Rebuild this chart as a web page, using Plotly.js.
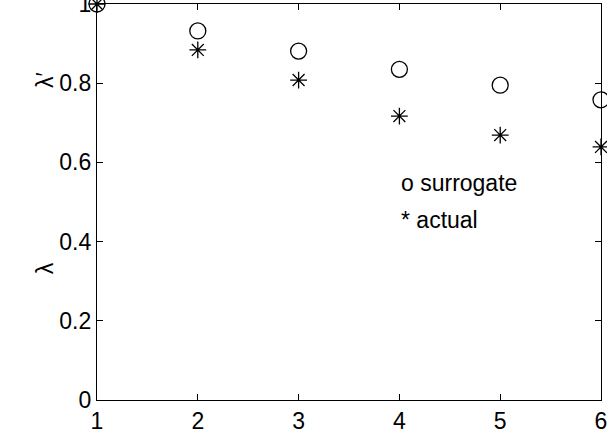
<!DOCTYPE html>
<html>
<head>
<meta charset="utf-8">
<script src="https://cdn.plot.ly/plotly-3.0.1.min.js"></script>
<style>html,body{margin:0;padding:0;background:#fff;}#chart{width:607px;height:438px;}</style>
</head>
<body>
<div id="chart"></div>
<script>
const xValues = [1, 2, 3, 4, 5, 6];
const surrogate = [1.0, 0.932, 0.881, 0.835, 0.795, 0.758];
const actual = [1.0, 0.884, 0.808, 0.717, 0.669, 0.639];
const xTicks = [1, 2, 3, 4, 5, 6];
const yTicks = [0, 0.2, 0.4, 0.6, 0.8, 1];
const yTickLabels = ['0', '0.2', '0.4', '0.6', '0.8', '1'];
const legendTexts = ['o surrogate', '* actual'];
const axisLabels = ['\u03bb\u2032', '\u03bb'];

const font = {family: 'Liberation Sans, Arial, sans-serif', size: 23, color: '#000'};

const traces = [
  {x: xValues, y: surrogate, mode: 'markers', type: 'scatter', cliponaxis: false,
   marker: {symbol: 'circle-open', size: 16, color: '#000', line: {width: 1.3, color: '#000'}}},
  {x: xValues, y: actual, mode: 'markers', type: 'scatter', cliponaxis: false,
   marker: {symbol: 'asterisk-open', size: 14, color: '#000', line: {width: 1.3, color: '#000'}}}
];

const axisCommon = {
  showgrid: false, zeroline: false, showline: true, linecolor: '#000', linewidth: 1.2,
  mirror: 'ticks', ticks: 'inside', ticklen: 6, tickwidth: 1, tickcolor: '#000',
  tickfont: font, ticklabeloverflow: 'allow'
};

const layout = {
  width: 607, height: 438,
  margin: {l: 97, r: 6, t: 4, b: 38},
  paper_bgcolor: '#fff', plot_bgcolor: '#fff',
  showlegend: false,
  font: font,
  xaxis: Object.assign({}, axisCommon, {range: [1, 6], tickvals: xTicks, ticktext: xTicks.map(String)}),
  yaxis: Object.assign({}, axisCommon, {range: [0, 1], tickvals: yTicks, ticktext: yTickLabels}),
  annotations: [
    {xref: 'x', yref: 'y', x: 4, y: 0.548, xanchor: 'left', yanchor: 'middle', text: legendTexts[0], showarrow: false, font: font},
    {xref: 'paper', yref: 'y', x: 0.6, y: 0.455, xanchor: 'left', yanchor: 'middle', text: legendTexts[1], showarrow: false, font: font},
    {xref: 'paper', yref: 'paper', x: 0, xshift: -52, xanchor: 'center', yanchor: 'middle', y: 0.808, textangle: -90, text: axisLabels[0], showarrow: false, font: font},
    {xref: 'paper', yref: 'paper', x: 0, xshift: -52, xanchor: 'center', yanchor: 'middle', y: 0.333, textangle: -90, text: axisLabels[1], showarrow: false, font: font}
  ]
};

Plotly.newPlot('chart', traces, layout, {displayModeBar: false, staticPlot: true});
</script>
</body>
</html>
